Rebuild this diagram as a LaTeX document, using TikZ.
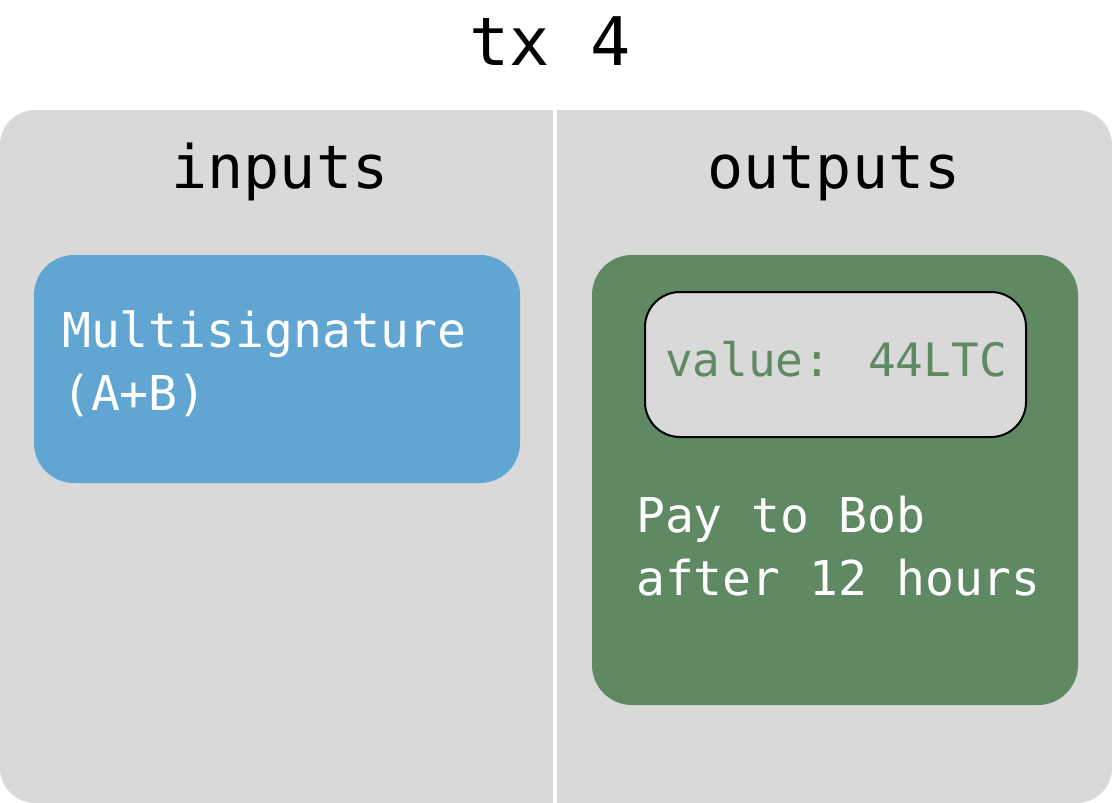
\documentclass[tikz,border=0pt]{standalone}
\usepackage{fontspec}
\setmainfont{DejaVu Sans Mono}
\usetikzlibrary{positioning}

\definecolor{panelgray}{HTML}{D9D9D9}
\definecolor{inblue}{HTML}{61A6D3}
\definecolor{outgreen}{HTML}{5E8962}

\tikzset{
    panel/.style={fill=panelgray, rounded corners=35pt, minimum width=1112pt, minimum height=693pt, inner sep=0pt},
    divider/.style={draw=white, line width=4pt},
    inbox/.style={fill=inblue, rounded corners=40pt, minimum width=486pt, minimum height=228pt, inner sep=0pt},
    outbox/.style={fill=outgreen, rounded corners=40pt, minimum width=486pt, minimum height=450pt, inner sep=0pt},
    valuebox/.style={fill=panelgray, draw=black, line width=2pt, rounded corners=35pt, minimum width=381pt, minimum height=145pt, inner sep=0pt},
    title/.style={font=\fontsize{67}{72}\selectfont, inner sep=0pt, anchor=base},
    heading/.style={font=\fontsize{60}{66}\selectfont, inner sep=0pt, anchor=base},
    bodytext/.style={font=\fontsize{48}{63}\selectfont, inner sep=0pt, anchor=base west, align=left}
}

\begin{document}
\begin{tikzpicture}[x=1pt, y=-1pt]
    \useasboundingbox (0,0) rectangle (1112,803);

    % define nodes
    \node[title] (tx) at (550,65) {tx 4};
    \node[panel] (body) at (556,456.5) {};
    \coordinate (divtop) at (555,110);
    \coordinate (divbot) at (555,803);
    \draw[divider] (divtop) -- (divbot);

    \node[heading] (inputs) at (280,188) {inputs};
    \node[heading] (outputs) at (834,188) {outputs};

    % base of a two-line node sits on its last line
    \node[inbox] (multisig) at (277,369) {};
    \node[bodytext, text=white] (multisigtext) at (62,410) {Multisignature\\(A+B)};

    \node[outbox] (payout) at (835,480) {};
    \node[valuebox] (value) at (835.5,364.5) {};
    \node[bodytext, text=outgreen, font=\fontsize{46}{60}\selectfont] (valuetext) at (665,376) {value: 44LTC};
    \node[bodytext, text=white] (paytext) at (636,595) {Pay to Bob\\after 12 hours};

\end{tikzpicture}
\end{document}
